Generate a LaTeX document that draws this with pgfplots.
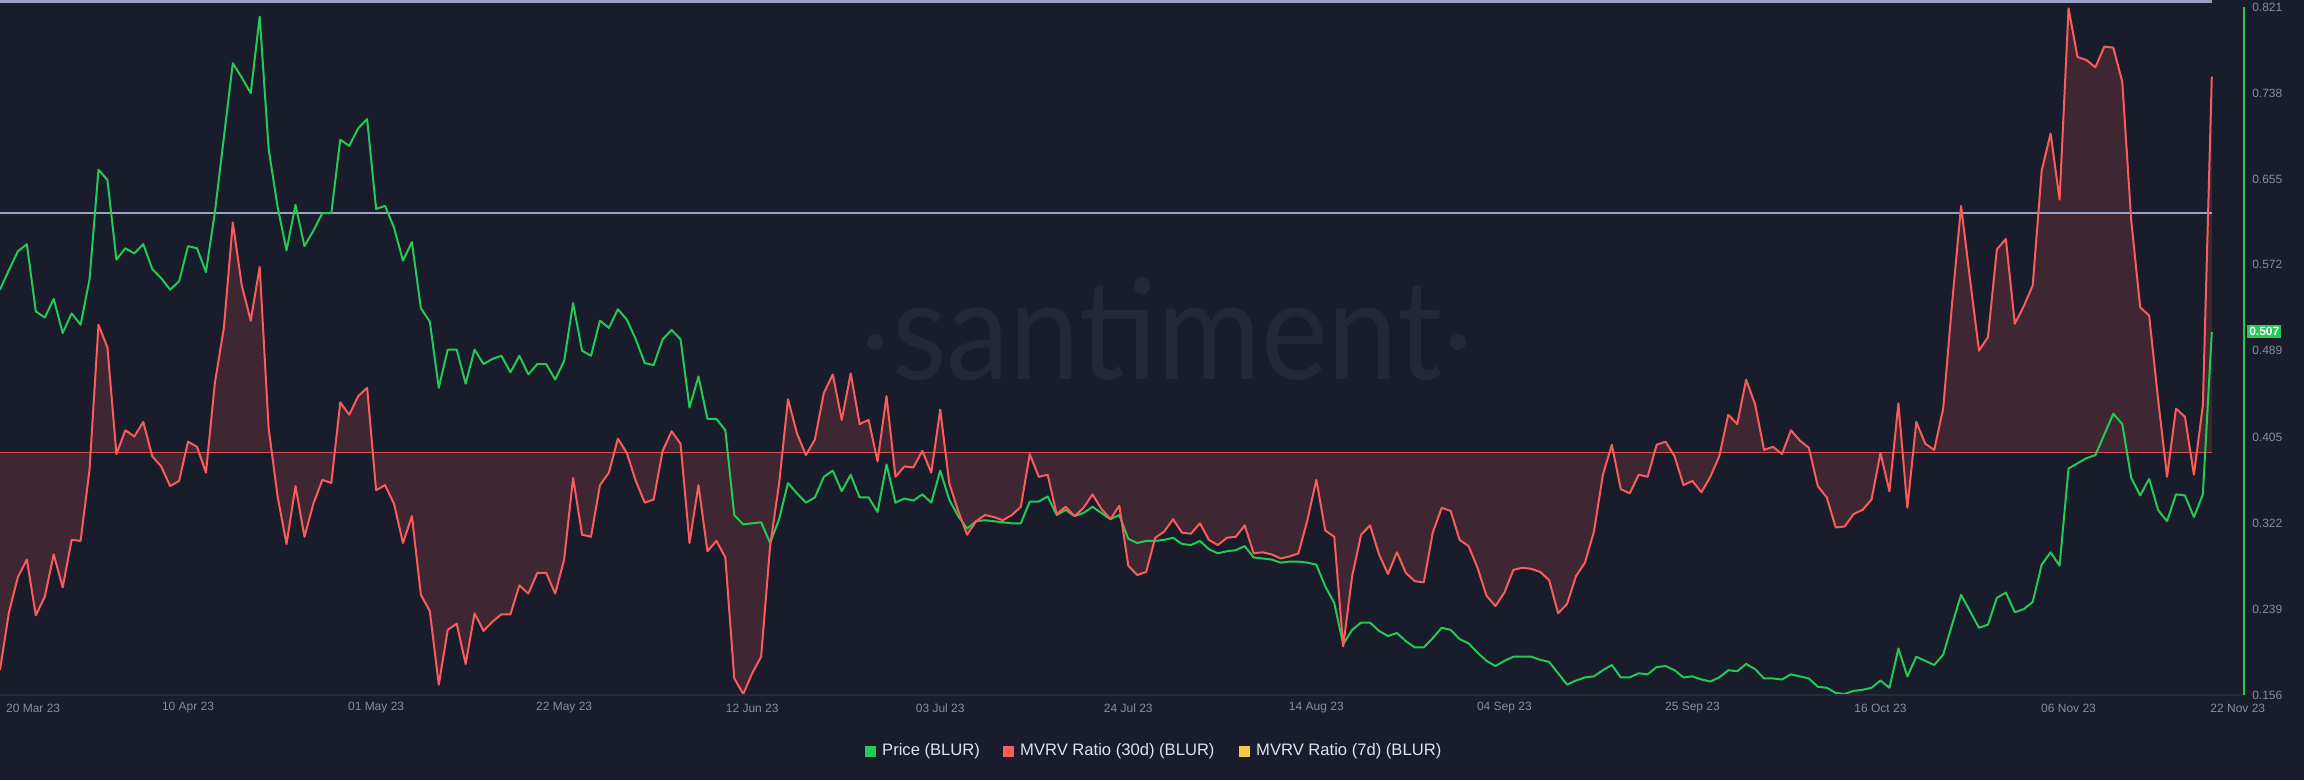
\documentclass[border=0pt]{standalone}
\usepackage{fontspec}
\setmainfont{Liberation Sans}
\newfontfamily\wmfont{Lato}
\usepackage{pgfplots}
\pgfplotsset{compat=1.18}
\usepackage{pgfplotstable}
\usepgfplotslibrary{fillbetween}

\definecolor{bg}{RGB}{24,28,43}
\definecolor{wm}{RGB}{35,39,56}
\definecolor{pricegreen}{RGB}{38,201,83}
\definecolor{mvrvred}{RGB}{250,92,92}
\definecolor{mvrvfill}{RGB}{62,38,51}
\definecolor{refline}{RGB}{155,161,196}
\definecolor{redbase}{RGB}{214,80,86}
\definecolor{ticklab}{RGB}{135,142,160}
\definecolor{legtext}{RGB}{222,226,236}
\definecolor{mvrvyellow}{RGB}{255,198,65}
\definecolor{axisdark}{RGB}{38,42,60}

\pgfplotstableread{
d v
0 0.548
1 0.567
2 0.585
3 0.592
4 0.527
5 0.521
6 0.539
7 0.506
8 0.525
9 0.514
10 0.558
11 0.664
12 0.654
13 0.577
14 0.588
15 0.583
16 0.592
17 0.568
18 0.559
19 0.548
20 0.556
21 0.590
22 0.588
23 0.565
24 0.623
25 0.695
26 0.767
27 0.753
28 0.738
29 0.812
30 0.684
31 0.628
32 0.586
33 0.630
34 0.590
35 0.605
36 0.622
37 0.622
38 0.693
39 0.687
40 0.704
41 0.713
42 0.626
43 0.629
44 0.608
45 0.576
46 0.594
47 0.530
48 0.517
49 0.453
50 0.490
51 0.490
52 0.457
53 0.490
54 0.476
55 0.481
56 0.484
57 0.468
58 0.484
59 0.466
60 0.476
61 0.476
62 0.461
63 0.479
64 0.535
65 0.489
66 0.484
67 0.518
68 0.511
69 0.529
70 0.519
71 0.500
72 0.477
73 0.475
74 0.500
75 0.509
76 0.500
77 0.434
78 0.464
79 0.423
80 0.423
81 0.412
82 0.330
83 0.321
84 0.322
85 0.323
86 0.303
87 0.326
88 0.361
89 0.351
90 0.342
91 0.347
92 0.367
93 0.373
94 0.353
95 0.369
96 0.347
97 0.347
98 0.333
99 0.379
100 0.342
101 0.346
102 0.344
103 0.350
104 0.342
105 0.373
106 0.345
107 0.329
108 0.317
109 0.324
110 0.325
111 0.324
112 0.323
113 0.322
114 0.322
115 0.343
116 0.343
117 0.348
118 0.330
119 0.335
120 0.329
121 0.332
122 0.338
123 0.332
124 0.326
125 0.330
126 0.307
127 0.303
128 0.305
129 0.305
130 0.306
131 0.308
132 0.302
133 0.301
134 0.305
135 0.297
136 0.293
137 0.295
138 0.296
139 0.300
140 0.289
141 0.288
142 0.287
143 0.284
144 0.285
145 0.285
146 0.284
147 0.282
148 0.261
149 0.245
150 0.205
151 0.219
152 0.226
153 0.226
154 0.218
155 0.213
156 0.216
157 0.208
158 0.202
159 0.202
160 0.211
161 0.221
162 0.219
163 0.210
164 0.206
165 0.197
166 0.189
167 0.184
168 0.189
169 0.193
170 0.193
171 0.193
172 0.190
173 0.188
174 0.177
175 0.166
176 0.170
177 0.173
178 0.174
179 0.180
180 0.185
181 0.173
182 0.173
183 0.177
184 0.176
185 0.183
186 0.184
187 0.180
188 0.173
189 0.174
190 0.171
191 0.169
192 0.173
193 0.180
194 0.179
195 0.186
196 0.181
197 0.172
198 0.172
199 0.171
200 0.176
201 0.174
202 0.172
203 0.164
204 0.163
205 0.158
206 0.157
207 0.160
208 0.161
209 0.163
210 0.170
211 0.163
212 0.201
213 0.174
214 0.193
215 0.189
216 0.185
217 0.195
218 0.224
219 0.253
220 0.237
221 0.221
222 0.224
223 0.250
224 0.255
225 0.236
226 0.239
227 0.246
228 0.282
229 0.294
230 0.281
231 0.375
232 0.380
233 0.385
234 0.388
235 0.408
236 0.428
237 0.418
238 0.366
239 0.349
240 0.365
241 0.335
242 0.324
243 0.350
244 0.349
245 0.328
246 0.350
247 0.507
}\pricedata

\pgfplotstableread{
d v
0 0.180
1 0.236
2 0.270
3 0.287
4 0.233
5 0.251
6 0.292
7 0.260
8 0.306
9 0.305
10 0.374
11 0.514
12 0.492
13 0.389
14 0.412
15 0.406
16 0.420
17 0.387
18 0.377
19 0.358
20 0.363
21 0.401
22 0.396
23 0.371
24 0.458
25 0.511
26 0.613
27 0.552
28 0.518
29 0.570
30 0.414
31 0.348
32 0.302
33 0.358
34 0.309
35 0.341
36 0.364
37 0.361
38 0.439
39 0.427
40 0.445
41 0.453
42 0.354
43 0.359
44 0.341
45 0.303
46 0.329
47 0.253
48 0.237
49 0.166
50 0.219
51 0.225
52 0.186
53 0.235
54 0.218
55 0.227
56 0.234
57 0.234
58 0.262
59 0.254
60 0.274
61 0.274
62 0.254
63 0.287
64 0.366
65 0.311
66 0.309
67 0.359
68 0.371
69 0.404
70 0.390
71 0.363
72 0.342
73 0.345
74 0.392
75 0.411
76 0.399
77 0.303
78 0.359
79 0.295
80 0.305
81 0.289
82 0.172
83 0.157
84 0.177
85 0.193
86 0.300
87 0.360
88 0.442
89 0.409
90 0.388
91 0.403
92 0.448
93 0.466
94 0.422
95 0.467
96 0.418
97 0.422
98 0.382
99 0.445
100 0.367
101 0.377
102 0.376
103 0.392
104 0.371
105 0.432
106 0.361
107 0.334
108 0.311
109 0.324
110 0.330
111 0.328
112 0.325
113 0.330
114 0.338
115 0.389
116 0.367
117 0.369
118 0.331
119 0.338
120 0.329
121 0.337
122 0.350
123 0.336
124 0.326
125 0.339
126 0.281
127 0.272
128 0.275
129 0.308
130 0.314
131 0.326
132 0.313
133 0.312
134 0.322
135 0.306
136 0.301
137 0.308
138 0.309
139 0.320
140 0.293
141 0.294
142 0.292
143 0.288
144 0.290
145 0.293
146 0.325
147 0.364
148 0.315
149 0.309
150 0.203
151 0.271
152 0.311
153 0.320
154 0.292
155 0.273
156 0.294
157 0.274
158 0.266
159 0.265
160 0.313
161 0.337
162 0.334
163 0.306
164 0.300
165 0.279
166 0.252
167 0.242
168 0.255
169 0.277
170 0.279
171 0.278
172 0.275
173 0.267
174 0.235
175 0.244
176 0.271
177 0.284
178 0.314
179 0.369
180 0.398
181 0.355
182 0.351
183 0.369
184 0.367
185 0.398
186 0.401
187 0.387
188 0.359
189 0.363
190 0.352
191 0.367
192 0.387
193 0.427
194 0.418
195 0.461
196 0.437
197 0.393
198 0.396
199 0.389
200 0.412
201 0.402
202 0.395
203 0.358
204 0.347
205 0.318
206 0.319
207 0.331
208 0.335
209 0.345
210 0.390
211 0.353
212 0.438
213 0.337
214 0.420
215 0.399
216 0.393
217 0.433
218 0.535
219 0.629
220 0.558
221 0.489
222 0.502
223 0.587
224 0.597
225 0.515
226 0.532
227 0.552
228 0.663
229 0.699
230 0.635
231 0.820
232 0.773
233 0.770
234 0.763
235 0.783
236 0.782
237 0.749
238 0.615
239 0.531
240 0.523
241 0.442
242 0.367
243 0.433
244 0.425
245 0.369
246 0.436
247 0.754
}\mvrvdata

\begin{document}
\begin{tikzpicture}
\fill[bg] (0,0) rectangle (2304pt,780pt);
% watermark
\node[anchor=base west, inner sep=0pt, text=wm] at (892pt,400pt) {\resizebox{550pt}{102pt}{\wmfont santiment}};
\fill[wm] (875pt,438pt) circle (8pt);
\fill[wm] (1458pt,438pt) circle (8pt);

\begin{axis}[
  at={(0pt,85pt)}, anchor=south west,
  scale only axis, width=2244pt, height=687.7pt,
  xmin=0, xmax=250.6, ymin=0.156, ymax=0.821,
  axis line style={draw=none},
  clip=false,
  major tick length=0pt,
  tick style={draw=none},
  xtick={3.7,21,42,63,84,105,126,147,168,189,210,231,249.9},
  xticklabels={20 Mar 23,10 Apr 23,01 May 23,22 May 23,12 Jun 23,03 Jul 23,24 Jul 23,14 Aug 23,04 Sep 23,25 Sep 23,16 Oct 23,06 Nov 23,22 Nov 23},
  xticklabel style={anchor=center, yshift=-13pt, inner sep=0pt, font=\fontsize{12}{14}\selectfont, text=ticklab},
  ytick={0.156,0.239,0.322,0.405,0.489,0.572,0.655,0.738,0.821},
  yticklabels={0.156,0.239,0.322,0.405,0.489,0.572,0.655,0.738,0.821},
  yticklabel pos=right,
  yticklabel style={anchor=west, inner sep=0pt, xshift=8pt, font=\fontsize{12}{14}\selectfont, text=ticklab},
]
\addplot[draw=none, name path=base, forget plot] coordinates {(0,0.3907) (247,0.3907)};
\addplot[draw=none, name path=mvrv, forget plot] table[x=d,y=v] {\mvrvdata};
\addplot[fill=mvrvfill, draw=none, forget plot] fill between[of=mvrv and base, on layer=main];
\addplot[redbase, line width=1.3pt, forget plot] coordinates {(0,0.3907) (247,0.3907)};
\addplot[refline, line width=2.5pt, forget plot] coordinates {(0,0.6222) (247,0.6222)};
\addplot[refline, line width=2.5pt, forget plot] coordinates {(0,0.8265) (247,0.8265)};
\addplot[pricegreen, line width=2pt, line join=round] table[x=d,y=v] {\pricedata};
\addplot[mvrvred, line width=2pt, line join=round] table[x=d,y=v] {\mvrvdata};
\draw[axisdark, line width=1.5pt] (axis cs:0,0.156) -- (axis cs:250.6,0.156);
\draw[pricegreen, line width=1.5pt] (axis cs:250.6,0.156) -- (axis cs:250.6,0.821);
\node[fill=pricegreen, text=white, font=\bfseries\fontsize{12}{14}\selectfont, inner xsep=2pt, inner ysep=2.5pt, anchor=west, xshift=3pt] at (axis cs:250.6,0.5077) {0.507};
\end{axis}

% legend
\fill[pricegreen] (865pt,23.5pt) rectangle (876pt,34.5pt);
\node[anchor=west, inner sep=0pt, text=legtext, font=\fontsize{16.6}{19}\selectfont] at (882pt,29pt) {Price (BLUR)};
\fill[mvrvred] (1003pt,23.5pt) rectangle (1014pt,34.5pt);
\node[anchor=west, inner sep=0pt, text=legtext, font=\fontsize{16.6}{19}\selectfont] at (1020pt,29pt) {MVRV Ratio (30d) (BLUR)};
\fill[mvrvyellow] (1239pt,23.5pt) rectangle (1250pt,34.5pt);
\node[anchor=west, inner sep=0pt, text=legtext, font=\fontsize{16.6}{19}\selectfont] at (1256pt,29pt) {MVRV Ratio (7d) (BLUR)};
\pgfresetboundingbox
\path (0,0) rectangle (2304pt,780pt);
\end{tikzpicture}
\end{document}
